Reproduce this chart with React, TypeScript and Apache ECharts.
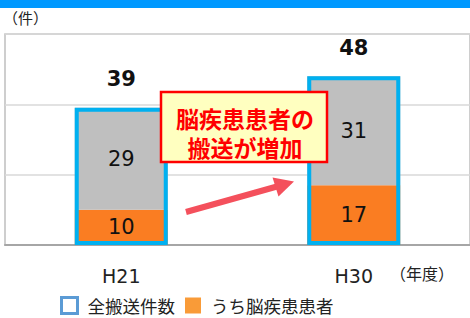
import React, { useEffect, useRef } from "react";
import * as echarts from "echarts";

const categories = ["H21", "H30"];
const brainValues = [10, 17];
const otherValues = [29, 31];
const totalValues = [39, 48];
const legendNames = ["全搬送件数", "うち脳疾患患者"];

export default function App() {
  const ref = useRef<HTMLDivElement>(null);
  useEffect(() => {
    document.body.style.margin = "0";
    const chart = echarts.init(ref.current!, null, { renderer: "svg" });
    const numFont = "DejaVu Sans";
    const jpFont = "Noto Sans CJK JP";
    chart.setOption({
      animation: false,
      backgroundColor: "#ffffff",
      grid: { left: 5, top: 34, width: 468, height: 211, show: true, borderColor: "#bfbfbf", borderWidth: 1.5, backgroundColor: "transparent" },
      xAxis: {
        type: "category",
        data: categories,
        axisLine: { lineStyle: { color: "#a6a6a6", width: 2 } },
        axisTick: { show: false },
        axisLabel: { fontFamily: numFont, fontSize: 19, color: "#222", margin: 21 },
      },
      yAxis: {
        type: "value",
        min: 0,
        max: 60,
        interval: 20,
        axisLabel: { show: false },
        axisLine: { show: false },
        axisTick: { show: false },
        splitLine: { lineStyle: { color: "#d9d9d9", width: 1.5 } },
      },
      legend: {
        left: 55,
        top: 291,
        itemWidth: 16,
        itemHeight: 16,
        itemGap: 10,
        icon: "rect",
        textStyle: { fontFamily: jpFont, fontSize: 17.5, color: "#222", padding: [0, 0, 0, 5], lineHeight: 18 },
        data: [
          { name: legendNames[0], itemStyle: { color: "#ffffff", borderColor: "#5b9bd5", borderWidth: 3 } },
          { name: legendNames[1], itemStyle: { color: "#f99b38" } },
        ],
      },
      series: [
        {
          name: legendNames[1],
          type: "bar",
          stack: "s",
          barWidth: 93,
          data: brainValues,
          itemStyle: { color: "#fa7d22" },
          label: { show: true, position: "inside", fontFamily: numFont, fontSize: 21, color: "#111" },
        },
        {
          name: "other",
          type: "bar",
          stack: "s",
          barWidth: 93,
          data: otherValues,
          itemStyle: { color: "#bfbfbf" },
          label: { show: true, position: "inside", fontFamily: numFont, fontSize: 21, color: "#111" },
        },
        {
          name: legendNames[0],
          type: "bar",
          barWidth: 93,
          barGap: "-100%",
          z: 5,
          data: totalValues,
          itemStyle: { color: "rgba(0,0,0,0)", borderColor: "#00b0f0", borderWidth: 4 },
          label: { show: true, position: "top", distance: 18, fontFamily: numFont, fontWeight: "bold", fontSize: 21, color: "#111" },
        },
      ],
      graphic: [
        { type: "rect", left: 0, top: 0, shape: { width: 470, height: 8 }, style: { fill: "#0099ff" } },
        { type: "text", left: 3, top: 10, style: { text: "（件）", font: `15px '${jpFont}'`, fill: "#222" } },
        { type: "text", left: 390, top: 265, style: { text: "（年度）", font: `16px '${jpFont}'`, fill: "#222" } },
        {
          type: "rect",
          shape: { x: 161, y: 92, width: 166, height: 70 },
          style: { fill: "#ffffc0", stroke: "#ff0000", lineWidth: 2.5 },
          z: 20,
        },
        {
          type: "text",
          x: 245,
          y: 118,
          z: 21,
          style: { text: "脳疾患患者の", font: `bold 23px '${jpFont}'`, fill: "#ff0000", align: "center", verticalAlign: "middle" },
        },
        {
          type: "text",
          x: 245,
          y: 147,
          z: 21,
          style: { text: "搬送が増加", font: `bold 23px '${jpFont}'`, fill: "#ff0000", align: "center", verticalAlign: "middle" },
        },
        { type: "line", z: 20, shape: { x1: 186, y1: 212, x2: 277, y2: 186.5 }, style: { stroke: "#f4505c", lineWidth: 6 } },
        {
          type: "polygon",
          z: 20,
          shape: { points: [[294, 181.5], [278.5, 196.5], [272.5, 177.5]] },
          style: { fill: "#f4505c" },
        },
      ],
    });
    return () => chart.dispose();
  }, []);
  return <div ref={ref} style={{ position: "absolute", left: 0, top: 0, width: 470, height: 318 }} />;
}
